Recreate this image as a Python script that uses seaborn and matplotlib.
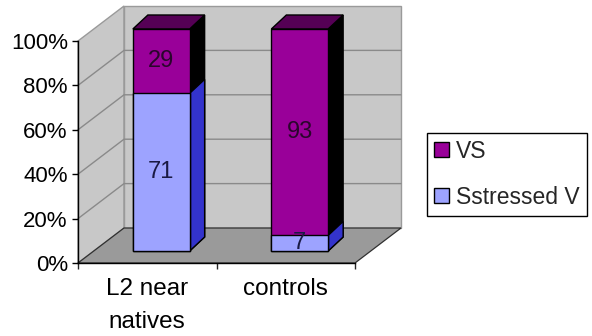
import numpy as np
import pandas as pd
import matplotlib
matplotlib.use("Agg")
import matplotlib.pyplot as plt
import seaborn as sns
from matplotlib.patches import Polygon, Patch
from matplotlib.transforms import ScaledTranslation, IdentityTransform

# ---- data -------------------------------------------------------------
groups = ["L2 near\nnatives", "controls"]
vs_pct = [29, 93]
stressed_pct = [71, 7]
series_names = ["VS", "Sstressed V"]
y_ticks = [0, 20, 40, 60, 80, 100]
y_tick_labels = ["0%", "20%", "40%", "60%", "80%", "100%"]

# ---- style ------------------------------------------------------------
PURPLE, PURPLE_SIDE, PURPLE_TOP = "#990099", "#000000", "#550055"
BLUE, BLUE_SIDE = "#9da3ff", "#3333cc"
WALL, FLOOR, GRID = "#c8c8c8", "#9a9a9a", "#8a8a8a"

sns.set_theme(style="ticks")
plt.rcParams["font.family"] = ["Liberation Sans", "DejaVu Sans"]

W, H, DPI = 592, 336, 100
fig = plt.figure(figsize=(W / DPI, H / DPI), dpi=DPI)
fig.patch.set_facecolor("white")
ax = fig.add_axes([78 / W, (H - 263) / H, (355 - 78) / W, (263 - 41) / H])

df = pd.DataFrame({"group": groups, "VS": vs_pct, "S": stressed_pct})
df["total"] = df["VS"] + df["S"]

# stacked bars: full height in purple, lower part in light blue on top
sns.barplot(data=df, x="group", y="total", color=PURPLE, saturation=1,
            width=0.41, errorbar=None, edgecolor="black", linewidth=1, ax=ax)
n_top = len(ax.patches)
sns.barplot(data=df, x="group", y="S", color=BLUE, saturation=1,
            width=0.41, errorbar=None, edgecolor="black", linewidth=1, ax=ax)
top_bars = ax.patches[:n_top]
low_bars = ax.patches[n_top:]

ax.set_xlim(-0.5, 1.5)
ax.set_ylim(0, 100)
ax.patch.set_visible(False)
ax.set_xlabel("")
ax.set_ylabel("")

# oblique depth offsets in pixels (x right, y up)
WALL_D = np.array([46.0, 35.0])
BAR_OFF = np.array([14.0, 12.0])
BAR_D = np.array([15.0, 14.0])

to_px = ax.transData.transform
ident = IdentityTransform()


def poly(pts, fc, ec, lw=1.0, z=1.0):
    ax.add_patch(Polygon(np.array(pts), closed=True, facecolor=fc, edgecolor=ec,
                         linewidth=lw, transform=ident, clip_on=False, zorder=z))


# walls and floor
f00, f10 = to_px((-0.5, 0)), to_px((1.5, 0))
f01, f11 = to_px((-0.5, 100)), to_px((1.5, 100))
poly([f00, f01, f01 + WALL_D, f00 + WALL_D], WALL, "#9a9a9a", 1.0, 0.2)        # left wall
poly([f00 + WALL_D, f01 + WALL_D, f11 + WALL_D, f10 + WALL_D], WALL, "#9a9a9a", 1.0, 0.2)  # back wall
for t in y_ticks[1:-1]:
    a, b = to_px((-0.5, t)), to_px((1.5, t))
    ax.plot([a[0], a[0] + WALL_D[0], b[0] + WALL_D[0]],
            [a[1], a[1] + WALL_D[1], b[1] + WALL_D[1]],
            color=GRID, lw=1.0, transform=ident, clip_on=False, zorder=0.3)
poly([f00, f10, f10 + WALL_D, f00 + WALL_D], FLOOR, "#303030", 0.9, 0.4)       # floor

# 3-D faces of each bar segment
bar_tr = ax.transData + ScaledTranslation(BAR_OFF[0] / DPI, BAR_OFF[1] / DPI, fig.dpi_scale_trans)
for bars, side_c, is_top in [(top_bars, PURPLE_SIDE, True), (low_bars, BLUE_SIDE, False)]:
    for p in bars:
        x0, y0 = p.get_x(), p.get_y()
        x1, y1 = x0 + p.get_width(), y0 + p.get_height()
        A = to_px((x0, y1)) + BAR_OFF
        B = to_px((x1, y1)) + BAR_OFF
        C = to_px((x1, y0)) + BAR_OFF
        poly([C, B, B + BAR_D, C + BAR_D], side_c, "black", 1.0, 2.5)
        if is_top:
            poly([A, B, B + BAR_D, A + BAR_D], PURPLE_TOP, "black", 1.0, 2.5)
for p in list(top_bars) + list(low_bars):
    p.set_transform(bar_tr)
    p.set_clip_on(False)
for p in top_bars:
    p.set_zorder(2.6)
for p in low_bars:
    p.set_zorder(2.7)

# value labels centred in each segment
for i, p in enumerate(low_bars):
    cx = p.get_x() + p.get_width() / 2
    ax.text(cx, stressed_pct[i] / 2, f"{stressed_pct[i]}", transform=bar_tr,
            ha="center", va="center", fontsize=17, color="#1a1a44", zorder=4)
    ax.text(cx, stressed_pct[i] + vs_pct[i] / 2, f"{vs_pct[i]}", transform=bar_tr,
            ha="center", va="center", fontsize=17, color="#2a062c", zorder=4)

# axes, ticks and labels
for s in ["top", "right"]:
    ax.spines[s].set_visible(False)
for s in ["left", "bottom"]:
    ax.spines[s].set_color("black")
    ax.spines[s].set_linewidth(1.0)
    ax.spines[s].set_zorder(3)
ax.set_yticks(y_ticks, y_tick_labels)
ax.tick_params(axis="y", length=4.3, width=1, direction="out", pad=3.0,
               labelsize=16, colors="black")
ax.set_xticks([0, 1], groups)
ax.set_xticks([-0.5, 0.5, 1.5], minor=True)
ax.tick_params(axis="x", which="major", length=0, pad=11, labelsize=17.5, colors="black")
ax.tick_params(axis="x", which="minor", length=4.3, width=1, direction="out")
for lab in ax.get_xticklabels():
    lab.set_linespacing(1.65)

# legend
handles = [Patch(facecolor=PURPLE, edgecolor="black", linewidth=1),
           Patch(facecolor=BLUE, edgecolor="black", linewidth=1)]
leg = fig.legend(handles, series_names, loc="upper left",
                 bbox_to_anchor=(427 / W, 1 - 133 / H), frameon=True,
                 fancybox=False, edgecolor="black", framealpha=1, fontsize=16.5,
                 handlelength=0.68, handleheight=0.64, handletextpad=0.3,
                 labelspacing=1.0, borderpad=0.3, borderaxespad=0)
leg.get_frame().set_linewidth(1.0)

fig.savefig("out.png", dpi=DPI, facecolor="white")
